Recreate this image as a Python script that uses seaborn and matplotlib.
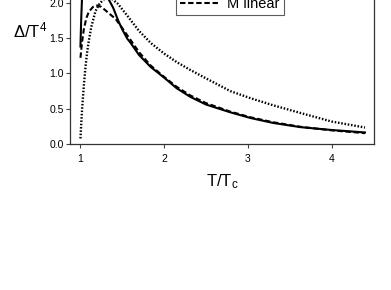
import numpy as np
import pandas as pd
import seaborn as sns
import matplotlib.pyplot as plt

# 读出的曲线数据 (T/Tc, Δ/T^4)
t_solid = [1.0, 1.005, 1.01, 1.02, 1.05, 1.1, 1.2, 1.3, 1.34, 1.39, 1.45, 1.5, 1.56, 1.6, 1.7,
           1.84, 2.0, 2.15, 2.31, 2.5, 2.79, 3.03, 3.3, 3.63, 4.0, 4.4]
d_solid = [1.38, 1.6, 1.8, 2.1, 2.5, 2.7, 2.6, 2.22, 2.04, 1.93, 1.75, 1.62, 1.49, 1.43, 1.26,
           1.09, 0.94, 0.79, 0.67, 0.56, 0.45, 0.37, 0.30, 0.24, 0.20, 0.165]

t_dash = [1.0, 1.02, 1.04, 1.07, 1.1, 1.15, 1.2, 1.25, 1.3, 1.42, 1.5, 1.6, 1.7, 1.84,
          2.0, 2.15, 2.31, 2.5, 2.79, 3.03, 3.3, 3.63, 4.0, 4.4]
d_dash = [1.22, 1.45, 1.62, 1.78, 1.87, 1.94, 1.96, 1.94, 1.89, 1.77, 1.64, 1.47, 1.30, 1.11,
          0.95, 0.81, 0.69, 0.58, 0.46, 0.38, 0.31, 0.245, 0.195, 0.155]

t_dot = [1.0, 1.01, 1.02, 1.04, 1.06, 1.08, 1.1, 1.13, 1.18, 1.22, 1.27, 1.32, 1.38, 1.45,
         1.57, 1.7, 1.84, 2.0, 2.15, 2.31, 2.5, 2.79, 3.03, 3.3, 3.63, 4.0, 4.4]
d_dot = [0.08, 0.3, 0.5, 0.82, 1.09, 1.3, 1.46, 1.66, 1.88, 1.97, 2.04, 2.07, 2.05, 1.98,
         1.8, 1.6, 1.43, 1.28, 1.16, 1.05, 0.93, 0.75, 0.65, 0.55, 0.44, 0.32, 0.235]

labels = ['lattice', 'M const', 'M linear']

plt.rcParams['font.family'] = ['Liberation Sans', 'DejaVu Sans']
plt.rcParams['mathtext.fontset'] = 'custom'
plt.rcParams['mathtext.rm'] = 'Liberation Sans'
plt.rcParams['mathtext.it'] = 'Liberation Sans'

fig = plt.figure(figsize=(3.91, 2.90), dpi=100)
ax = fig.add_axes([0.179, 0.503, 0.778, 0.683])

sns.lineplot(x=t_solid, y=d_solid, ax=ax, color='black', lw=1.5, label=labels[0])
sns.lineplot(x=t_dot, y=d_dot, ax=ax, color='black', lw=1.7, dashes=(0.65, 0.75),
             dash_capstyle='butt', label=labels[1])
sns.lineplot(x=t_dash, y=d_dash, ax=ax, color='black', lw=1.5, dashes=(2.6, 1.3), label=labels[2])

ax.set_xlim(0.875, 4.51)
ax.set_ylim(0, 2.8)
ax.set_xticks([1, 2, 3, 4])
ax.set_yticks([0.0, 0.5, 1.0, 1.5, 2.0, 2.5])
ax.set_yticklabels(['0.0', '0.5', '1.0', '1.5', '2.0', '2.5'])
ax.tick_params(labelsize=7.5, length=3, width=0.8, color='#444444', direction='out')
ax.tick_params(axis='y', pad=1.5)
ax.tick_params(axis='x', pad=4)
for s in ax.spines.values():
    s.set_color('#333333')
    s.set_linewidth(0.9)

ax.set_xlabel('T/T$_\\mathrm{c}$', fontsize=12, labelpad=6)
ax.set_ylabel('$\\Delta$/T$^4$', fontsize=12, rotation=0, ha='center', va='center')
ax.yaxis.set_label_coords(-0.13, 0.575)

leg = ax.legend(loc='lower left', bbox_to_anchor=(176 / 391, 1 - 15 / 290),
                bbox_transform=fig.transFigure, borderaxespad=0, fontsize=10.5,
                frameon=True, fancybox=False, handlelength=2.6, handletextpad=0.6,
                borderpad=0.3, labelspacing=0.2)
leg.get_frame().set_edgecolor('#333333')
leg.get_frame().set_linewidth(0.8)

fig.savefig('out.png', dpi=100)
